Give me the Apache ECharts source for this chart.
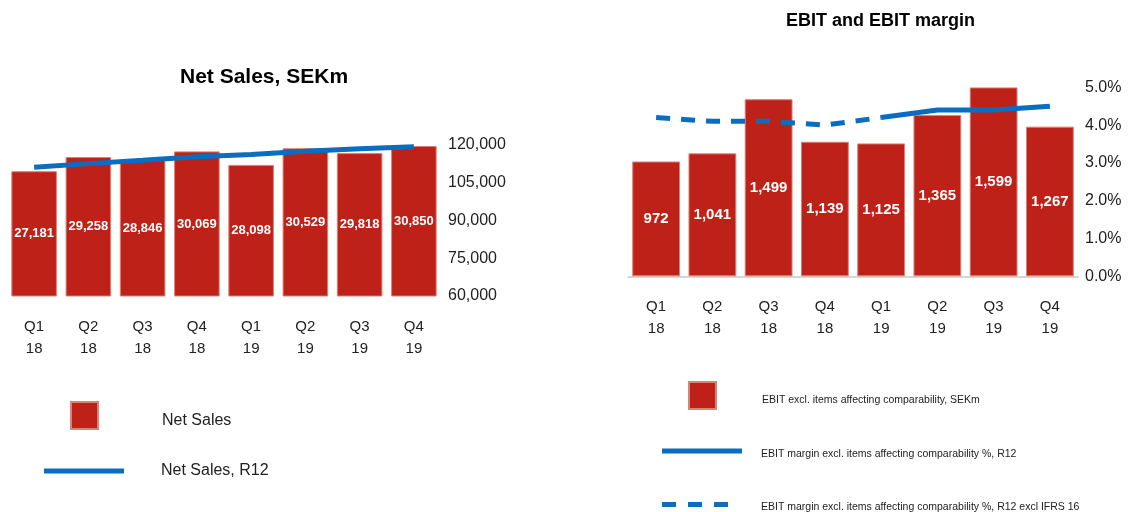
<!DOCTYPE html>
<html>
<head>
<meta charset="utf-8">
<script src="https://cdn.jsdelivr.net/npm/echarts@6/dist/echarts.min.js"></script>
<style>
html,body{margin:0;padding:0;background:#fff;}
#chart{width:1128px;height:512px;}
</style>
</head>
<body>
<div id="chart"></div>
<script>
// ---- data ----
const quarters = ['Q1','Q2','Q3','Q4','Q1','Q2','Q3','Q4'];
const years = ['18','18','18','18','19','19','19','19'];
const netSales = [27181, 29258, 28846, 30069, 28098, 30529, 29818, 30850];
const netSalesR12 = [111200, 112600, 113900, 115354, 116271, 117542, 118514, 119295];
const ebit = [972, 1041, 1499, 1139, 1125, 1365, 1599, 1267];
const ebitMarginR12 = [null, null, null, null, 4.2, 4.4, 4.4, 4.5];
const ebitMarginExclIfrs16 = [4.2, 4.1, 4.1, 4.0, 4.2, null, null, null];

const categories = quarters.map((q, i) => q + '\n' + years[i]);

const FONT = "'Liberation Sans', Arial, sans-serif";
const RED = '#BE2118';
const BLUE = '#0A6DBF';
const TXT = '#222222';
const fmtThousands = v => Math.round(v).toString().replace(/\B(?=(\d{3})+(?!\d))/g, ',');

const catAxis = (gridIndex, showLine) => ({
  type: 'category', gridIndex, data: categories,
  axisTick: {show: false},
  axisLine: {show: showLine, lineStyle: {color: '#c8c8c8', width: 1.5}},
  axisLabel: {fontFamily: FONT, fontSize: 15, color: TXT, lineHeight: 22, margin: 20}
});

const legendBase = (name, left, top, w, h, icon, gap, fontSize, padTop) => ({
  data: [name], left, top, itemWidth: w, itemHeight: h, icon, padding: 0,
  selectedMode: false,
  formatter: n => '{g|}' + n,
  textStyle: {fontFamily: FONT, fontSize, color: TXT, padding: [padTop, 0, 0, 0], rich: {g: {width: gap}}}
});

const option = {
  animation: false,
  backgroundColor: '#fff',
  title: [
    {text: 'Net Sales, SEKm', left: 180, top: 67, padding: 0,
     textStyle: {fontFamily: FONT, fontSize: 21, fontWeight: 'bold', color: '#000'}},
    {text: 'EBIT and EBIT margin', left: 786, top: 12, padding: 0,
     textStyle: {fontFamily: FONT, fontSize: 18, fontWeight: 'bold', color: '#000'}}
  ],
  legend: [
    legendBase('Net Sales', 70, 401, 27, 27, 'rect', 59, 16, 10),
    legendBase('Net Sales, R12', 44, 463, 80, 5, 'rect', 32, 16, 0),
    legendBase('EBIT excl. items affecting comparability, SEKm', 688, 381, 27, 27, 'rect', 41, 10.5, 10),
    legendBase('EBIT margin excl. items affecting comparability %, R12', 662, 448.5, 80, 5, 'rect', 14, 10.5, 6),
    legendBase('EBIT margin excl. items affecting comparability %, R12 excl IFRS 16', 662, 502, 66, 5,
      'path://M0,0h14v5h-14z M26,0h14v5h-14z M52,0h14v5h-14z', 28, 10.5, 6)
  ],
  grid: [
    {left: 7, top: 145, width: 434, height: 151},
    {left: 628, top: 87.3, width: 450, height: 189}
  ],
  xAxis: [catAxis(0, false), catAxis(1, true)],
  yAxis: [
    {type: 'value', gridIndex: 0, min: 9000, max: 31000, show: false},
    {type: 'value', gridIndex: 0, position: 'right', min: 60000, max: 120000, interval: 15000,
     splitLine: {show: false}, axisLine: {show: false}, axisTick: {show: false},
     axisLabel: {fontFamily: FONT, fontSize: 16, color: TXT, margin: 7, formatter: fmtThousands}},
    {type: 'value', gridIndex: 1, min: 0, max: 1600, show: false},
    {type: 'value', gridIndex: 1, position: 'right', min: 0, max: 5, interval: 1,
     splitLine: {show: false}, axisLine: {show: false}, axisTick: {show: false},
     axisLabel: {fontFamily: FONT, fontSize: 16, color: TXT, margin: 7, formatter: v => v.toFixed(1) + '%'}}
  ],
  series: [
    {name: 'Net Sales', type: 'bar', xAxisIndex: 0, yAxisIndex: 0, data: netSales,
     barCategoryGap: '16%', color: RED,
     itemStyle: {color: RED, borderColor: '#dc8078', borderWidth: 1},
     label: {show: true, position: 'inside', color: '#fff', fontFamily: FONT, fontWeight: 'bold',
             fontSize: 13, formatter: p => fmtThousands(p.value)}},
    {name: 'Net Sales, R12', type: 'line', xAxisIndex: 0, yAxisIndex: 1, data: netSalesR12,
     color: BLUE, symbol: 'none', z: 5, lineStyle: {color: BLUE, width: 5}},
    {name: 'EBIT excl. items affecting comparability, SEKm', type: 'bar', xAxisIndex: 1, yAxisIndex: 2, data: ebit,
     barCategoryGap: '15%', color: RED,
     itemStyle: {color: RED, borderColor: '#dc8078', borderWidth: 1},
     label: {show: true, position: 'inside', color: '#fff', fontFamily: FONT, fontWeight: 'bold',
             fontSize: 15, formatter: p => fmtThousands(p.value)}},
    {name: 'EBIT margin excl. items affecting comparability %, R12', type: 'line', xAxisIndex: 1, yAxisIndex: 3,
     data: ebitMarginR12, color: BLUE, symbol: 'none', z: 5, lineStyle: {color: BLUE, width: 5}},
    {name: 'EBIT margin excl. items affecting comparability %, R12 excl IFRS 16', type: 'line', xAxisIndex: 1, yAxisIndex: 3,
     data: ebitMarginExclIfrs16, color: BLUE, symbol: 'none', z: 5,
     lineStyle: {color: BLUE, width: 5, type: [14, 11]}}
  ]
};

const chart = echarts.init(document.getElementById('chart'), null, {renderer: 'canvas'});
chart.setOption(option);
</script>
</body>
</html>
